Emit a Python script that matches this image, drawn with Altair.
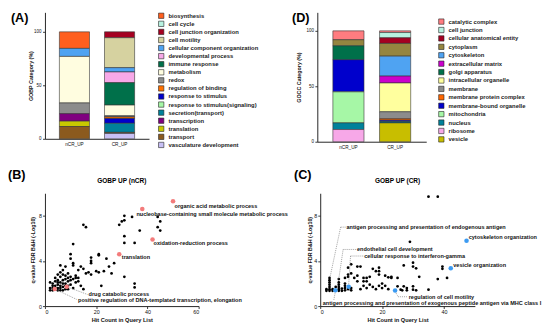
import altair as alt
import pandas as pd

FONT = "Liberation Sans"
groups = ["nCR_UP", "CR_UP"]

# ---------------- GOBP stacked bars (A) ----------------
bp_categories = ["biosynthesis", "cell cycle", "cell junction organization", "cell motility",
                 "cellular component organization", "developmental process", "immune response",
                 "metabolism", "redox", "regulation of binding", "response to stimulus",
                 "response to stimulus(signaling)", "secretion(transport)", "transcription",
                 "translation", "transport", "vasculature development"]
bp_colors = ["#FF5F1F", "#B8F2E0", "#A50021", "#D6D2A0", "#4FA3F2", "#F7A8E8", "#00704A",
             "#FFFDE0", "#8C8C8C", "#FF7000", "#0000CC", "#A6F7A6", "#00819A", "#800080",
             "#C8C800", "#8B5A1E", "#C8C0F5"]
bp_ncr = [15.5, 0, 0, 0, 7.5, 0, 0, 43.5, 10, 0, 0, 0, 0, 7, 5, 11.5, 0]
bp_cr = [0, 0, 5.5, 28, 4, 10, 21, 10, 1, 1.5, 4.5, 0, 8.5, 0, 0, 1, 5]

# ---------------- GOCC stacked bars (D) ----------------
cc_categories = ["catalytic complex", "cell junction", "cellular anatomical entity", "cytoplasm",
                 "cytoskeleton", "extracellular matrix", "golgi apparatus", "intracellular organelle",
                 "membrane", "membrane protein complex", "membrane-bound organelle", "mitochondria",
                 "nucleus", "ribosome", "vesicle"]
cc_colors = ["#FF7C80", "#B8F2E0", "#A50021", "#958540", "#4FA3F2", "#CC00CC", "#00704A",
             "#FFFF9E", "#8C8C8C", "#FF6600", "#0000CC", "#A6F7A6", "#00819A", "#F7A8E8", "#C8BE00"]
cc_ncr = [8, 0, 0, 5.5, 0, 0, 12.5, 0, 0, 0, 29, 28, 6, 11, 0]
cc_cr = [1.5, 4.8, 5, 11.5, 18, 6.2, 0, 26, 6.3, 1.3, 1.2, 0, 1.2, 0, 17]

# ---------------- GOBP UP (nCR) scatter (B) ----------------
ncr_hits = [2, 2, 2, 3, 3, 3, 3, 4, 4, 4, 4, 5, 5, 5, 5, 5, 5, 6, 6, 6, 6, 6, 6, 6,
            7, 7, 7, 7, 7, 7, 8, 8, 8, 8, 8, 8, 9, 9, 9, 9, 9, 10, 10, 10, 10, 10,
            11, 11, 11, 11, 11, 12, 12, 12, 13, 13, 13, 14, 14, 15, 15, 15, 16, 16, 17,
            18, 18, 18, 18, 20, 21, 21, 21, 22, 23, 24, 25, 27, 29, 30, 31, 31, 31, 31, 31,
            34, 35, 35, 35, 37, 44, 45, 44, 45, 26]
ncr_q = [1.4, 1.6, 2.1, 1.4, 1.6, 1.8, 2.0, 1.6, 1.8, 2.2, 2.5, 1.4, 1.6, 1.9, 2.1, 2.3, 2.8,
         1.4, 1.6, 1.8, 2.1, 2.6, 3.0, 3.6, 1.4, 1.7, 2.0, 2.3, 2.8, 3.2, 1.5, 1.8, 2.0, 2.4,
         2.7, 3.5, 1.5, 1.8, 2.2, 2.5, 2.9, 1.9, 2.3, 2.6, 4.2, 4.6, 1.6, 2.4, 3.6, 3.8, 5.5,
         2.1, 2.5, 2.7, 2.2, 2.5, 3.2, 1.8, 3.5, 1.5, 3.3, 7.2, 7.0, 2.9, 3.0, 4.0, 3.8, 4.3,
         2.8, 3.1, 4.6, 4.5, 3.0, 1.8, 3.1, 4.2, 3.5, 3.8, 7.2, 7.5, 7.6, 8.0, 6.2, 5.6, 2.6,
         7.9, 5.6, 2.0, 1.65, 6.7, 7.9, 7.5, 7.0, 6.7, 2.9]
ncr_hl_hits = [50, 38, 42, 29, 8.5, 3.8]
ncr_hl_q = [9.3, 8.6, 5.9, 4.6, 1.72, 1.52]
ncr_labels = ["organic acid metabolic process",
              "nucleobase-containing small molecule metabolic process",
              "oxidation-reduction process", "translation", "drug catabolic process",
              "positive regulation of DNA-templated transcription, elongation"]
ncr_label_hits = [50.6, 35.7, 42.4, 30.0, 17.0, 12.9]
ncr_label_q = [8.9, 8.2, 5.63, 4.31, 1.03, 0.58]
ncr_lead_xa = [8.5, 3.8]
ncr_lead_ya = [1.72, 1.52]
ncr_lead_xb = [16.6, 12.5]
ncr_lead_yb = [1.03, 0.58]

# ---------------- GOBP UP (CR) scatter (C) ----------------
cr_hits = [2, 2, 3, 3, 3, 3, 3, 3, 3, 4, 4, 5, 6, 6, 6, 6, 6, 6, 7, 7, 8, 8, 8, 8, 8,
           9, 9, 9, 9, 10, 10, 10, 10, 11, 12, 12, 12, 13, 13, 14, 14, 14, 15, 15, 15,
           16, 16, 17, 17, 18, 18, 19, 19, 19, 19, 20, 20, 21, 21, 22, 22, 23, 23, 25, 25,
           26, 26.5, 27, 27, 28, 28, 29, 30, 30, 30, 30, 31, 31, 32, 35, 35, 38, 38, 39.5, 39.5, 41]
cr_q = [1.35, 1.5, 1.35, 1.5, 1.7, 1.9, 2.1, 2.3, 2.5, 1.35, 1.5, 1.7, 1.35, 1.5, 1.7, 1.9,
        2.1, 2.4, 1.35, 1.55, 1.4, 1.6, 1.8, 2.0, 2.5, 1.5, 2.6, 2.8, 3.4, 1.4, 1.6, 2.9, 3.7,
        2.5, 2.7, 3.5, 2.2, 3.5, 1.5, 2.5, 2.2, 1.8, 1.6, 2.5, 2.2, 1.9, 2.6, 1.7, 3.3, 3.1,
        1.5, 1.8, 3.4, 3.1, 2.8, 1.6, 2.0, 2.7, 1.8, 2.55, 1.5, 2.5, 2.6, 2.5, 1.75, 1.45,
        1.4, 3.6, 1.75, 1.6, 1.4, 5.7, 3.85, 3.5, 1.75, 1.45, 3.35, 1.4, 2.6, 1.45, 9.7,
        9.7, 2.4, 3.5, 3.3, 2.5]
cr_hl_hits = [47.3, 42.2, 24.2, 9.2, 4.9]
cr_hl_q = [5.8, 3.35, 1.39, 1.72, 1.4]
cr_labels = ["antigen processing and presentation of endogenous antigen",
             "endothelial cell development", "cellular response to interferon-gamma",
             "cytoskeleton organization", "vesicle organization", "regulation of cell motility",
             "antigen processing and presentation of exogenous peptide antigen via MHC class I"]
cr_label_hits = [8.5, 11.9, 14.2, 48.0, 43.0, 28.6, 0.8]
cr_label_q = [7.0, 5.02, 4.44, 6.1, 3.68, 0.83, 0.3]
cr_lead_xa = [8.2, 6.6, 11.6, 7.4, 13.9, 9.8, 24.2, 25.2, 4.9]
cr_lead_ya = [7.0, 7.0, 5.02, 5.02, 4.44, 4.44, 1.3, 0.83, 1.3]
cr_lead_xb = [6.6, 3.2, 7.4, 6.0, 9.8, 9.2, 25.2, 28.2, 4.4]
cr_lead_yb = [7.0, 2.6, 5.02, 2.4, 4.44, 1.9, 0.83, 0.83, 0.55]


def tag_text(label, x, y, size=13):
    return alt.Chart(pd.DataFrame({"t": [label]})).mark_text(
        font=FONT, fontSize=size, fontWeight="bold", align="left", baseline="top", color="#000"
    ).encode(x=alt.value(x), y=alt.value(y), text="t:N")


def stacked(cats, colors, ncr, cr, field, ytitle, ymax, w, h, pin, pout, lx, ly, rowpad,
            tag, tagx, tpad):
    rows = []
    n = len(cats)
    for i, c in enumerate(cats):
        for g, vals in zip(groups, [ncr, cr]):
            if vals[i] > 0:
                rows.append({"group": g, field: c, "val": vals[i], "ord": n - i})
    df = pd.DataFrame(rows)
    bars = alt.Chart(df).mark_bar(stroke="#333", strokeWidth=0.6).encode(
        x=alt.X("group:N", sort=groups,
                scale=alt.Scale(paddingInner=pin, paddingOuter=pout),
                axis=alt.Axis(title=None, labelAngle=0, ticks=False, labelFontSize=4.8,
                              labelPadding=3)),
        y=alt.Y("val:Q", stack="zero", scale=alt.Scale(domain=[0, ymax], nice=False),
                axis=alt.Axis(values=[0, 50, 100], title=ytitle, labelFontSize=4.6,
                              tickSize=2.5, labelPadding=1.5, titlePadding=tpad,
                              titleFontSize=5.5)),
        color=alt.Color(field + ":N", scale=alt.Scale(domain=cats, range=colors),
                        legend=alt.Legend(title=None, orient="none", legendX=lx, legendY=ly,
                                          symbolType="square", symbolSize=30,
                                          symbolStrokeColor="#222", symbolStrokeWidth=0.6,
                                          labelFont=FONT, labelFontSize=6,
                                          labelFontWeight="bold", labelColor="#222",
                                          rowPadding=rowpad, labelOffset=4, padding=0)),
        order=alt.Order("ord:Q", sort="ascending"),
    )
    return alt.layer(bars, tag_text(tag, tagx, 0)).properties(width=w, height=h)


def scatter(hits, q, hl_hits, hl_q, hl_color, labels, lab_h, lab_q, xa, ya, xb, yb,
            xmax, xvals, w, h, title, tag, tagx, ytpad):
    pts = alt.Chart(pd.DataFrame({"h": hits, "q": q})).mark_circle(
        size=8, color="#000", opacity=1).encode(
        x=alt.X("h:Q", scale=alt.Scale(domain=[0, xmax], nice=False),
                axis=alt.Axis(values=xvals, title="Hit Count in Query List", labelFontSize=5.5,
                              tickSize=2.5, labelPadding=1, titlePadding=2, titleFontSize=5.8)),
        y=alt.Y("q:Q", scale=alt.Scale(domain=[0, 10], nice=False),
                axis=alt.Axis(values=[0, 2, 4, 6, 8, 10], title="q-value FDR B&H (-Log10)",
                              labelFontSize=5.5, tickSize=2.5, labelPadding=1,
                              titlePadding=ytpad, titleFontSize=5.5)),
    )
    leads = alt.Chart(pd.DataFrame({"xa": xa, "ya": ya, "xb": xb, "yb": yb})).mark_rule(
        color="#777", strokeWidth=0.7, strokeDash=[1, 1]).encode(
        x="xa:Q", x2=alt.X2("xb"), y="ya:Q", y2=alt.Y2("yb"))
    hl = alt.Chart(pd.DataFrame({"h": hl_hits, "q": hl_q})).mark_circle(
        size=22, color=hl_color, opacity=1).encode(x="h:Q", y="q:Q")
    txt = alt.Chart(pd.DataFrame({"h": lab_h, "q": lab_q, "t": labels})).mark_text(
        font=FONT, fontSize=5.7, fontWeight="bold", align="left", baseline="middle",
        color="#111").encode(x="h:Q", y="q:Q", text="t:N")
    ttl = alt.Chart(pd.DataFrame({"t": [title]})).mark_text(
        font=FONT, fontSize=6.7, fontWeight="bold", align="center", baseline="middle",
        color="#000").encode(x=alt.value(w / 2), y=alt.value(-13), text="t:N")
    return alt.layer(pts, leads, hl, txt, ttl, tag_text(tag, tagx, -25)).properties(
        width=w, height=h)


panel_a = stacked(bp_categories, bp_colors, bp_ncr, bp_cr, "bpcat", "GOBP Category (%)",
                  118.2, 107, 130, 0.333, 0.32, 116, 0, -0.7, "(A)", -35, 0.5)
panel_d = stacked(cc_categories, cc_colors, cc_ncr, cc_cr, "cccat", "GOCC Category (%)",
                  116.7, 112, 133, 0.333, 0.333, 124, 6, -0.35, "(D)", -26, 5)
panel_b = scatter(ncr_hits, ncr_q, ncr_hl_hits, ncr_hl_q, "#F37B7B", ncr_labels,
                  ncr_label_hits, ncr_label_q, ncr_lead_xa, ncr_lead_ya, ncr_lead_xb,
                  ncr_lead_yb, 60, [0, 20, 40, 60], 158, 116, "GOBP UP (nCR)", "(B)", -38, 3.5)
panel_c = scatter(cr_hits, cr_q, cr_hl_hits, cr_hl_q, "#3C9BF2", cr_labels,
                  cr_label_hits, cr_label_q, cr_lead_xa, cr_lead_ya, cr_lead_xb,
                  cr_lead_yb, 50, [0, 10, 20, 30, 40, 50], 159, 116, "GOBP UP (CR)", "(C)", -27, 1.5)

row1 = alt.hconcat(panel_a, panel_d, spacing=173, bounds="flush").resolve_scale(
    color="independent")
row2 = alt.hconcat(panel_b, panel_c, spacing=125, bounds="flush")

chart = alt.vconcat(row1, row2, spacing=20).properties(
    padding=0, background="white"
).configure_view(stroke=None).configure_axis(
    grid=False, domainColor="#222", tickColor="#222", labelColor="#111", titleColor="#111",
    labelFont=FONT, titleFont=FONT, titleFontWeight="bold", domainWidth=1, tickWidth=0.9
)

chart.save("out.html", embed_options={"renderer": "svg", "actions": False})
